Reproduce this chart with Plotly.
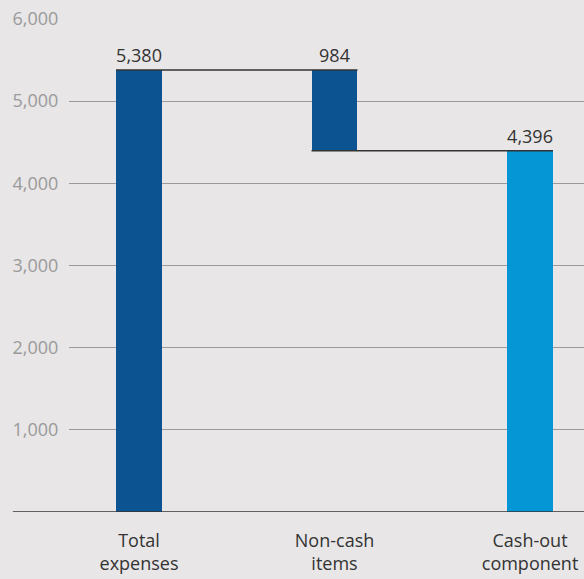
import plotly.graph_objects as go

categories = ["Total<br>expenses", "Non-cash<br>items", "Cash-out<br>component"]
values = [5380, 984, 4396]
bases = [0, 4396, 0]
labels = ["5,380", "984", "4,396"]
colors = ["#0b5391", "#0b5391", "#0596d6"]
y_ticks = [1000, 2000, 3000, 4000, 5000, 6000]
y_ticktext = ["1,000", "2,000", "3,000", "4,000", "5,000", "6,000"]

FONT = "Open Sans"
FS = 18
BAR_W = 0.235
xs = list(range(len(categories)))

fig = go.Figure()
fig.add_trace(go.Bar(
    x=xs, y=values, base=bases, width=BAR_W,
    marker=dict(color=colors, line=dict(width=0)),
    text=labels, textposition="outside", cliponaxis=False,
    textfont=dict(family=FONT, size=FS, color="#333333"),
    hoverinfo="skip", showlegend=False,
))

# connectors derived from the data
tops = [b + v for b, v in zip(bases, values)]
conn_levels = [tops[0], bases[1]]
for i, lvl in enumerate(conn_levels):
    fig.add_trace(go.Scatter(
        x=[xs[i] - BAR_W / 2, xs[i + 1] + BAR_W / 2], y=[lvl, lvl],
        mode="lines", line=dict(color="#333333", width=1.5),
        hoverinfo="skip", showlegend=False, cliponaxis=False,
    ))

fig.add_shape(type="line", xref="paper", yref="y", x0=-0.109, x1=1, y0=0, y1=0,
              line=dict(color="#333333", width=1.5), layer="above")

fig.update_layout(
    width=584, height=579,
    margin=dict(l=69, r=0, t=19, b=67),
    paper_bgcolor="#e8e6e7", plot_bgcolor="#e8e6e7",
    font=dict(family=FONT, size=FS, color="#333333"),
    bargap=0,
    xaxis=dict(
        range=[-0.358, 2.276], tickvals=xs, ticktext=categories,
        showgrid=False, zeroline=False, showline=False,
        ticks="outside", ticklen=12, tickcolor="rgba(0,0,0,0)",
        tickfont=dict(family=FONT, size=FS, color="#333333"),
        fixedrange=True,
    ),
    yaxis=dict(
        range=[0, 6000], tickvals=y_ticks, ticktext=y_ticktext,
        showgrid=True, gridcolor="#9a9a9a", gridwidth=1,
        zeroline=False, showline=False,
        ticks="outside", ticklen=6, tickcolor="rgba(0,0,0,0)",
        tickfont=dict(family=FONT, size=FS, color="#9a9a9a"),
        fixedrange=True,
    ),
)

fig.write_html("out.html")
